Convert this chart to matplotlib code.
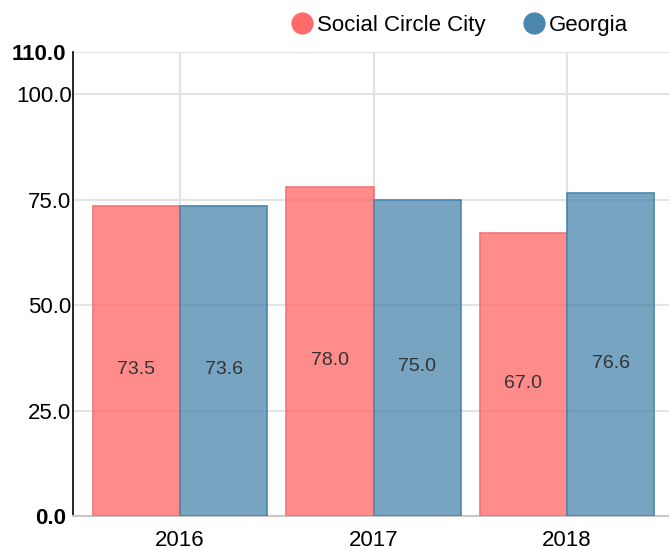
import matplotlib
matplotlib.use("Agg")
import matplotlib.pyplot as plt
from matplotlib.lines import Line2D
import matplotlib.transforms as mtransforms
import numpy as np

categories = ["2016", "2017", "2018"]
series_names = ["Social Circle City", "Georgia"]
city_values = [73.5, 78.0, 67.0]
georgia_values = [73.6, 75.0, 76.6]
y_ticks = [0, 25, 50, 75, 100, 110]

plt.rcParams['font.family'] = ['Liberation Sans', 'DejaVu Sans']

fig = plt.figure(figsize=(6.69, 5.5), dpi=100)
ax = fig.add_axes([73/669, 34/550, 1 - 73/669, (516-52)/550])

x = np.arange(len(categories))
w = 0.45
face = ['#ff6b6b', '#4a86ad']
edge = ['#f57474', '#4a86ad']
alphas = [0.78, 0.75]
for i, vals in enumerate([city_values, georgia_values]):
    pos = x - w/2 if i == 0 else x + w/2
    ax.bar(pos, vals, width=w, color=face[i], alpha=alphas[i],
           edgecolor='none', zorder=3)
    ax.bar(pos, vals, width=w, facecolor='none', edgecolor=edge[i],
           linewidth=1.2, zorder=4)
    for p, v in zip(pos, vals):
        ax.annotate(f"{v:.1f}", (p, v/2), xytext=(0, -9), textcoords='offset pixels',
                    ha='center', va='center', fontsize=14, color='#333333', zorder=5)

ax.set_ylim(0, 110)
ax.set_xlim((73-180)/193.5, (669-180)/193.5)
ax.set_yticks(y_ticks)
ax.set_yticklabels([f"{t:.1f}" for t in y_ticks])
ax.set_xticks(x)
ax.set_xticklabels(categories)
ax.tick_params(axis='y', length=0, pad=1, labelsize=16, labelcolor='black')
ax.tick_params(axis='x', length=0, pad=10, labelsize=16, labelcolor='black')
shift = mtransforms.ScaledTranslation(-5/100, 0, fig.dpi_scale_trans)
for lbl, t in zip(ax.get_yticklabels(), y_ticks):
    if t in (0, 110):
        lbl.set_fontweight('bold')
        lbl.set_transform(lbl.get_transform() + shift)

ax.grid(True, color='#e3e3e3', linewidth=1.5, zorder=0)
ax.set_axisbelow(True)
for s in ['top', 'right']:
    ax.spines[s].set_visible(False)
ax.spines['left'].set_color('black')
ax.spines['left'].set_linewidth(1.2)
ax.spines['bottom'].set_color('#c8c8c8')
ax.spines['bottom'].set_linewidth(1.5)

handles = [Line2D([], [], marker='o', linestyle='none', markersize=16,
                  markerfacecolor=face[i], markeredgecolor='none') for i in range(2)]
fig.legend(handles, series_names, loc='upper right', bbox_to_anchor=(0.968, 1.009),
           ncol=2, frameon=False, fontsize=16, handletextpad=0.05,
           columnspacing=1.6, handlelength=1.2)

fig.savefig("out.png", dpi=100)
